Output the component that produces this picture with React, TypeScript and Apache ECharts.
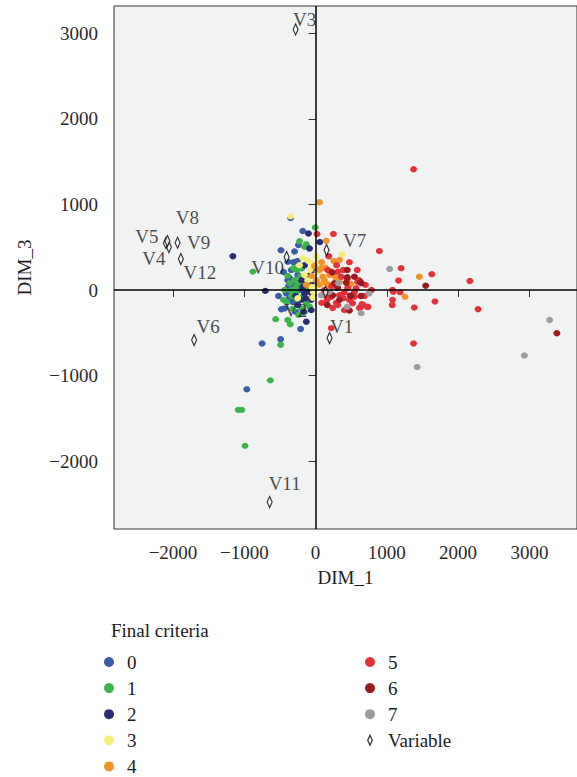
import React, { useEffect, useRef } from "react";
import * as echarts from "echarts";

const FONT = "Liberation Serif";
const TEXT_COLOR = "#1c1c1c";

// Cluster ids ("Final criteria") and their colours
const categories = ["0", "1", "2", "3", "4", "5", "6", "7"];
const categoryColors = [
  "#3b5ca9",
  "#3bb44a",
  "#2a2e70",
  "#f2ee7c",
  "#f29327",
  "#e4323a",
  "#9a1b20",
  "#9d9d9d",
];

// Individuals projected on DIM_1 / DIM_3, one array per cluster
const crit0 = [
  [-350, 840], [-180, 690], [-240, 525], [-485, 465], [-295, 450], [-255, 340],
  [-390, 330], [-340, 235], [-390, 115], [-410, -40], [-365, -95], [-435, -215],
  [-480, -225], [-210, -455], [-490, -575], [-750, -625], [-965, -1160], [-320, 60],
  [-250, 175], [-450, 210], [-225, 0], [-320, -140], [-280, -255], [-380, 45],
  [-155, 95], [-520, -70], [-310, 325], [-195, 255], [-365, 140],
];
const crit1 = [
  [-5, 730], [-225, 570], [-130, 535], [-155, 505], [-880, 215], [-310, 255],
  [-205, 255], [-295, 115], [-215, 155], [-340, 0], [-270, 40], [-130, -155],
  [-85, -195], [-200, -215], [-390, -350], [-355, -400], [-560, -340], [-490, -640],
  [-635, -1055], [-1085, -1400], [-1035, -1400], [-990, -1820], [-335, -70],
  [-250, -115], [-405, -140], [-170, -70], [-225, 80], [-365, 80], [-280, -35],
  [-450, -115], [-320, -220], [-155, -255], [-240, -290], [-435, 0], [-110, 0],
  [-390, 165], [-265, 235],
];
const crit2 = [
  [-100, 660], [60, 560], [-85, 485], [-1160, 395], [-155, 290], [-155, -40],
  [-85, -20], [-200, -115], [-60, -115], [-60, -235], [-130, -370], [-705, -10],
  [-180, 35], [-110, 80], [-250, -175], [-140, -95], [-40, -70], [-195, 115],
  [-100, 165], [-40, 60], [-280, -70], [-170, -255], [-30, 235],
];
const crit3 = [
  [-350, 860], [375, 415], [10, 395], [-110, 345], [-75, 240], [-110, 115],
  [-250, -95], [-40, 305], [30, 210], [-155, 175], [-30, -25], [55, 325],
  [-180, 375], [-55, 35], [-225, 290], [10, 40], [80, 80], [-40, -90],
];
const crit4 = [
  [55, 1025], [150, 575], [255, 340], [335, 350], [55, 235], [140, 260],
  [290, 195], [1455, 155], [-130, 60], [10, 115], [55, 65], [1255, -80],
  [280, 150], [495, 70], [125, 115], [195, 175], [-55, 165], [85, 325],
  [195, 60], [-15, 280], [335, 95], [170, 0], [80, 255], [100, 155], [150, 80],
];
const crit5 = [
  [20, 655], [250, 655], [895, 455], [185, 395], [585, 235], [1200, 255],
  [360, 155], [445, 130], [1165, 110], [570, 20], [1080, 0], [335, -60],
  [160, -115], [290, -150], [520, -155], [670, -175], [730, -200], [1080, -115],
  [1075, -175], [1385, -205], [220, -445], [1375, -625], [1375, 1410], [1630, 185],
  [2165, 105], [1090, -20], [1185, -25], [1675, -135], [2280, -225], [610, 115],
  [650, -165], [125, 0], [225, 45], [405, -25], [475, -115], [195, -80],
  [310, -175], [390, -95], [85, -150], [545, -25], [685, -70], [450, 25],
  [240, -210], [405, -235], [615, -210], [140, -60], [700, 60], [785, 0],
  [295, 290], [390, 235], [475, 325], [170, 235], [220, 215], [315, 215],
  [590, 95], [220, -80], [360, -60], [545, -80], [640, -195], [735, -195],
];
const crit6 = [
  [235, 205], [445, 235], [545, 155], [265, 80], [430, 85], [640, 80],
  [240, -60], [500, -70], [635, -70], [1545, 50], [3385, -505], [445, 150],
  [475, -240], [165, -175], [485, -65], [335, -115], [310, 25], [630, 95],
];
const crit7 = [
  [1040, 245], [320, 80], [750, -40], [80, -60], [445, -195], [640, -270],
  [3285, -350], [2930, -765], [1425, -900], [195, -20],
];
const clusters = [crit0, crit1, crit2, crit3, crit4, crit5, crit6, crit7];

// Variables (loadings) on the same plane
const variableNames = ["V1", "V2", "V3", "V4", "V5", "V6", "V7", "V8", "V9", "V10", "V11", "V12"];
const variableX = [196, 140, -280, -2058, -2100, -1704, 154, -2079, -1936, -406, -644, -1890];
const variableY = [-561, -23, 3043, 502, 549, -584, 467, 572, 552, 385, -2476, 362];

// Pixel offsets of each variable's label from its marker
const labelOffsets: Record<string, [number, number]> = {
  V1: [12, -12],
  V2: [-30, 19],
  V3: [9, -10],
  V4: [-15, 11],
  V5: [-19, -7],
  V6: [14, -14],
  V7: [28, -10],
  V8: [20, -24],
  V9: [21, 0],
  V10: [-19, 10],
  V11: [15, -19],
  V12: [19, 13],
};

const xTicks = [-2000, -1000, 0, 1000, 2000, 3000];
const yTicks = [-2000, -1000, 0, 1000, 2000, 3000];

const minusFmt = (v: number) => (v < 0 ? "\u2212" + Math.abs(v) : String(v));

const DIAMOND_ICON = "path://M5,0L10,11L5,22L0,11Z";

export default function App() {
  const ref = useRef<HTMLDivElement>(null);

  useEffect(() => {
    if (!ref.current) return;
    const chart = echarts.init(ref.current, null, { renderer: "svg" });

    const textStyle = { fontFamily: FONT, fontSize: 19, color: TEXT_COLOR };

    const clusterSeries = clusters.map((pts, i) => ({
      type: "scatter",
      name: categories[i],
      data: pts,
      symbol: "circle",
      symbolSize: [7, 6.3],
      itemStyle: { color: categoryColors[i], opacity: 1 },
      silent: true,
      z: 2,
    }));

    const variableSeries = {
      type: "scatter",
      name: "Variable",
      symbol: "diamond",
      symbolSize: [5, 11],
      itemStyle: { color: "#ffffff", borderColor: "#000000", borderWidth: 1.3 },
      data: variableNames.map((n, i) => ({
        name: n,
        value: [variableX[i], variableY[i]],
        label: { offset: labelOffsets[n] },
      })),
      label: {
        show: true,
        formatter: "{b}",
        position: "inside",
        align: "center",
        verticalAlign: "middle",
        fontFamily: FONT,
        fontSize: 19,
        color: TEXT_COLOR,
        textBorderWidth: 0,
      },
      markLine: {
        silent: true,
        symbol: ["none", "none"],
        label: { show: false },
        lineStyle: { color: "#000000", width: 1.5, type: "solid" },
        data: [{ xAxis: 0 }, { yAxis: 0 }],
      },
      silent: true,
      z: 4,
    };

    const legendBase = {
      orient: "vertical",
      top: 652.5,
      height: 200,
      itemWidth: 26,
      itemHeight: 10,
      itemGap: 7.1,
      padding: 0,
      selectedMode: false,
      textStyle: { ...textStyle },
    };

    chart.setOption({
      animation: false,
      title: {
        text: "Final criteria",
        left: 111,
        top: 621,
        padding: 0,
        textStyle: { ...textStyle, fontWeight: "normal" },
      },
      legend: [
        {
          ...legendBase,
          left: 104,
          data: categories.slice(0, 5).map((c) => ({ name: c, icon: "circle" })),
        },
        {
          ...legendBase,
          left: 365,
          data: [
            ...categories.slice(5).map((c) => ({ name: c, icon: "circle" })),
            {
              name: "Variable",
              icon: DIAMOND_ICON,
              itemStyle: { color: "#ffffff", borderColor: "#000000", borderWidth: 1.3 },
            },
          ],
        },
      ],
      grid: {
        show: true,
        left: 114,
        top: 6,
        width: 464,
        height: 523,
        backgroundColor: "#f1f2f2",
        borderColor: "#333333",
        borderWidth: 1,
      },
      xAxis: {
        type: "value",
        min: -2828,
        max: 3668,
        name: "DIM_1",
        nameLocation: "middle",
        nameGap: 39,
        nameTextStyle: textStyle,
        axisLine: { show: false },
        splitLine: { show: false },
        axisTick: {
          show: true,
          length: 7,
          customValues: xTicks,
          lineStyle: { color: "#333333", width: 1 },
        },
        axisLabel: {
          customValues: xTicks,
          margin: 14,
          formatter: minusFmt,
          ...textStyle,
          color: "#2a2a2a",
        },
      },
      yAxis: {
        type: "value",
        min: -2791,
        max: 3317,
        name: "DIM_3",
        nameLocation: "middle",
        nameGap: 80,
        nameTextStyle: textStyle,
        axisLine: { show: false },
        splitLine: { show: false },
        axisTick: {
          show: true,
          length: 7,
          customValues: yTicks,
          lineStyle: { color: "#333333", width: 1 },
        },
        axisLabel: {
          customValues: yTicks,
          margin: 16,
          formatter: minusFmt,
          ...textStyle,
          color: "#2a2a2a",
        },
      },
      series: [...clusterSeries, variableSeries],
    });

    return () => chart.dispose();
  }, []);

  return (
    <div
      ref={ref}
      style={{ position: "absolute", left: 0, top: 0, width: 577, height: 777 }}
    />
  );
}
